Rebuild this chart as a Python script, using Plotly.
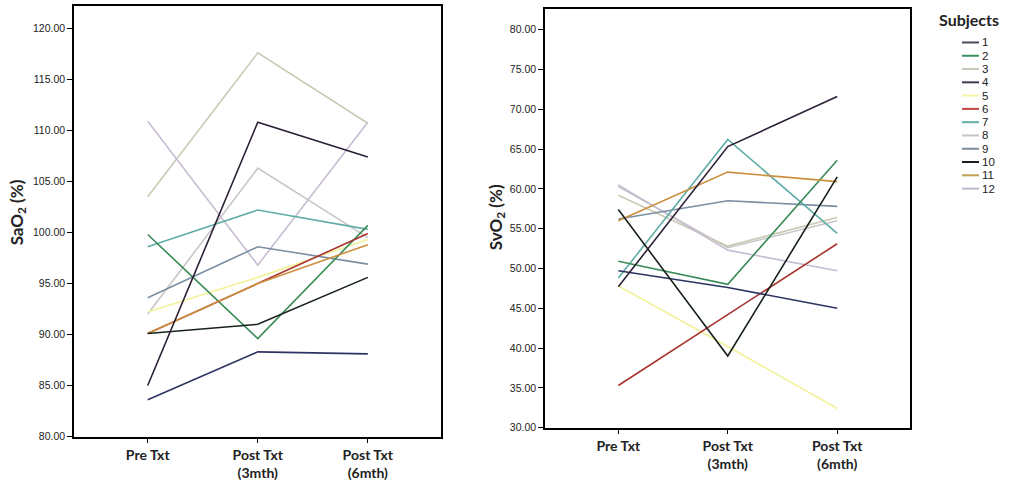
import plotly.graph_objects as go

categories = ["Pre Txt", "Post Txt<br>(3mth)", "Post Txt<br>(6mth)"]
subjects = ["1", "2", "3", "4", "5", "6", "7", "8", "9", "10", "11", "12"]
colors = ["#2e3462", "#3a8a58", "#c9c9b4", "#2c1f36", "#f2f29c", "#a8332e",
          "#5fada6", "#c6c6c6", "#7a8ea2", "#16221a", "#cc8f3e", "#c8bcd2"]
legend_colors = ["#4a4a5c", "#3a9062", "#c8c8b8", "#403a4c", "#f5f5a6", "#c04444",
                 "#62b0a8", "#c4c4c4", "#7a8ca0", "#1a1a1a", "#c0a050", "#c2b8cc"]

sao2 = {
    "1": [83.6, 88.3, 88.1],
    "2": [99.8, 89.6, 100.7],
    "3": [103.5, 117.6, 110.7],
    "4": [85.0, 110.8, 107.4],
    "5": [92.2, 95.6, 99.3],
    "6": [90.1, 95.0, 99.9],
    "7": [98.6, 102.2, 100.3],
    "8": [92.0, 106.3, 99.5],
    "9": [93.6, 98.6, 96.9],
    "10": [90.1, 91.0, 95.6],
    "11": [90.1, 95.0, 98.8],
    "12": [110.9, 96.8, 110.8],
}

svo2 = {
    "1": [49.7, 47.6, 45.0],
    "2": [50.9, 48.0, 63.6],
    "3": [59.2, 52.8, 56.4],
    "4": [47.7, 65.3, 71.6],
    "5": [47.8, 40.2, 32.4],
    "6": [35.3, 44.2, 53.1],
    "7": [48.8, 66.2, 54.4],
    "8": [60.3, 52.6, 56.0],
    "9": [56.2, 58.5, 57.8],
    "10": [57.4, 39.0, 61.5],
    "11": [56.0, 62.1, 60.9],
    "12": [60.5, 52.3, 49.7],
}

sao2_ticks = [80, 85, 90, 95, 100, 105, 110, 115, 120]
svo2_ticks = [30, 35, 40, 45, 50, 55, 60, 65, 70, 75, 80]

W, H = 1010, 487

fig = go.Figure()
draw_order = ["8", "3", "12", "5", "9", "7", "2", "6", "11", "1", "10", "4"]
for s in draw_order:
    i = subjects.index(s)
    fig.add_trace(go.Scatter(x=categories, y=sao2[s], mode="lines", name=s,
                             line=dict(color=colors[i], width=1.6),
                             xaxis="x", yaxis="y", showlegend=False))
    fig.add_trace(go.Scatter(x=categories, y=svo2[s], mode="lines", name=s,
                             line=dict(color=colors[i], width=1.6),
                             xaxis="x2", yaxis="y2", showlegend=False))

axis_common = dict(showline=True, linecolor="black", linewidth=1.5, mirror=True,
                   ticks="outside", ticklen=5, tickcolor="black", tickwidth=1.2,
                   showgrid=False, zeroline=False)

fig.update_layout(
    width=W, height=H,
    margin=dict(l=0, r=0, t=0, b=0),
    paper_bgcolor="white", plot_bgcolor="white",
    showlegend=False,
    xaxis=dict(domain=[74 / W, 441 / W], type="category", range=[-0.67, 2.665],
               tickfont=dict(family="Lato", size=14, color="#222", weight="bold"),
               anchor="y", **axis_common),
    yaxis=dict(domain=[1 - 442 / H, 1 - 6 / H], range=[80, 122.2],
               tickvals=sao2_ticks, tickformat=".2f",
               tickfont=dict(family="Liberation Sans", size=10.5, color="#222"),
               anchor="x", **axis_common),
    xaxis2=dict(domain=[545 / W, 910 / W], type="category", range=[-0.67, 2.665],
                tickfont=dict(family="Lato", size=14, color="#222", weight="bold"),
                anchor="y2", **axis_common),
    yaxis2=dict(domain=[1 - 433 / H, 1 - 9 / H], range=[30, 82.6],
                tickvals=svo2_ticks, tickformat=".2f",
                tickfont=dict(family="Liberation Sans", size=10.5, color="#222"),
                anchor="x2", **axis_common),
)

annotations = [
    dict(text="<b>SaO<sub>2</sub> (%)</b>", x=18 / W, y=1 - 215 / H, xref="paper", yref="paper",
         textangle=-90, showarrow=False, font=dict(family="Lato", size=17, color="#222"),
         xanchor="center", yanchor="middle"),
    dict(text="<b>SvO<sub>2</sub> (%)</b>", x=497 / W, y=1 - 220 / H, xref="paper", yref="paper",
         textangle=-90, showarrow=False, font=dict(family="Lato", size=17, color="#222"),
         xanchor="center", yanchor="middle"),
    dict(text="<b>Subjects</b>", x=969 / W, y=1 - 20 / H, xref="paper", yref="paper",
         showarrow=False, font=dict(family="Lato", size=16, color="#222"),
         xanchor="center", yanchor="middle"),
]
shapes = []
y0 = 43.0
step = 13.45
for i, s in enumerate(subjects):
    yy = y0 + i * step
    shapes.append(dict(type="line", xref="paper", yref="paper",
                       x0=962 / W, x1=979 / W, y0=1 - yy / H, y1=1 - yy / H,
                       line=dict(color=legend_colors[i], width=2)))
    annotations.append(dict(text=s, x=980 / W, y=1 - yy / H, xref="paper", yref="paper",
                            showarrow=False, xanchor="left", yanchor="middle",
                            font=dict(family="Liberation Sans", size=11.5, color="#222")))

fig.update_layout(annotations=annotations, shapes=shapes)

fig.write_html("out.html")
